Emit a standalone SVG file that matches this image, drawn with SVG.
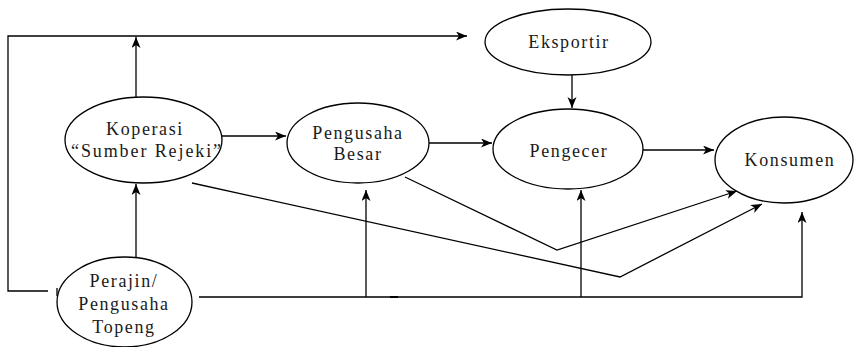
<svg xmlns="http://www.w3.org/2000/svg" width="856" height="347" viewBox="0 0 856 347">
<style>
.n{fill:#fff;stroke:#000;stroke-width:1.3}
.c{fill:none;stroke:#000;stroke-width:1.3}
</style>
<defs>
<marker id="ah" markerUnits="userSpaceOnUse" markerWidth="12" markerHeight="10" refX="11" refY="4.5" orient="auto">
<path d="M0,0 L11,4.5 L0,9 L3,4.5 z" fill="#000"/>
</marker>
</defs>
<g id="connectors">
<polyline class="c" points="48,291 8,291 8,36 467,36" marker-end="url(#ah)"/>
<line class="c" x1="57" y1="288" x2="57" y2="296"/>
<line class="c" x1="136" y1="97" x2="136" y2="37" marker-end="url(#ah)"/>
<line class="c" x1="136" y1="258" x2="136" y2="184" marker-end="url(#ah)"/>
<line class="c" x1="222" y1="136" x2="286" y2="136" marker-end="url(#ah)"/>
<line class="c" x1="429" y1="143" x2="492" y2="143" marker-end="url(#ah)"/>
<line class="c" x1="572" y1="75" x2="572" y2="108" marker-end="url(#ah)"/>
<line class="c" x1="643" y1="150" x2="714" y2="150" marker-end="url(#ah)"/>
<polyline class="c" points="199,297 802,297 802,212" marker-end="url(#ah)"/>
<line x1="390" y1="297" x2="398" y2="297" stroke="#000" stroke-width="2"/>
<line class="c" x1="366" y1="297" x2="366" y2="190" marker-end="url(#ah)"/>
<line class="c" x1="581" y1="297" x2="581" y2="190" marker-end="url(#ah)"/>
<polyline class="c" points="192,183 620,277 762,204" marker-end="url(#ah)"/>
<polyline class="c" points="405,177 557,250 737,191" marker-end="url(#ah)"/>
</g>
<g font-family="Liberation Serif, Times New Roman, serif" font-size="18" letter-spacing="1.6" fill="#1a1a1a" text-anchor="middle">
<g id="eksportir">
<ellipse class="n" cx="568" cy="42" rx="83" ry="33"/>
<text x="569" y="48">Eksportir</text>
</g>
<g id="koperasi">
<ellipse class="n" cx="143.5" cy="140" rx="78.5" ry="43"/>
<text x="145" y="135">Koperasi</text>
<text x="147" y="157" letter-spacing="1.9">“Sumber Rejeki”</text>
</g>
<g id="pengusaha-besar">
<ellipse class="n" cx="358" cy="143" rx="71" ry="40"/>
<text x="358" y="139">Pengusaha</text>
<text x="358" y="160">Besar</text>
</g>
<g id="pengecer">
<ellipse class="n" cx="568" cy="149" rx="75" ry="40"/>
<text x="569" y="157">Pengecer</text>
</g>
<g id="konsumen">
<ellipse class="n" cx="784" cy="160" rx="69" ry="43"/>
<text x="790" y="166">Konsumen</text>
</g>
<g id="perajin">
<ellipse class="n" cx="124.5" cy="302" rx="67.5" ry="45"/>
<text x="124" y="287">Perajin/</text>
<text x="124" y="310">Pengusaha</text>
<text x="124" y="333">Topeng</text>
</g>
</g>
</svg>
